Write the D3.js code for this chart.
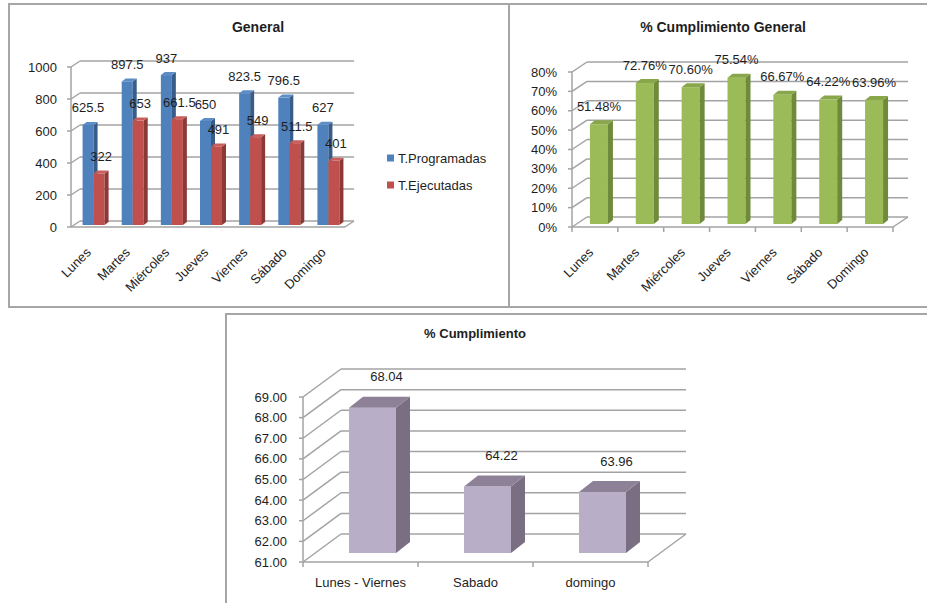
<!DOCTYPE html>
<html>
<head>
<meta charset="utf-8">
<script src="https://cdn.jsdelivr.net/npm/d3@7"></script>
<style>
body { margin: 0; background: #fff; }
svg text { font-family: "Liberation Sans", Arial, sans-serif; fill: #1e1e1e; }
</style>
</head>
<body>
<svg id="chart" width="927" height="603"></svg>
<script>
// datos
var dias = ["Lunes", "Martes", "Miércoles", "Jueves", "Viernes", "Sábado", "Domingo"];
var programadas = [625.5, 897.5, 937, 650, 823.5, 796.5, 627];
var ejecutadas = [322, 653, 661.5, 491, 549, 511.5, 401];
var cumplGeneral = [51.48, 72.76, 70.60, 75.54, 66.67, 64.22, 63.96];
var periodos = ["Lunes - Viernes", "Sabado", "domingo"];
var cumplimiento = [68.04, 64.22, 63.96];
var ticksGeneral = [0, 200, 400, 600, 800, 1000];
var ticksPct = [0, 10, 20, 30, 40, 50, 60, 70, 80];
var ticksCumpl = [61, 62, 63, 64, 65, 66, 67, 68, 69];

var svg = d3.select("#chart");
var grid = "#a3a3a3";
var border = "#a6a6a6";

// marcos de los paneles
svg.append("rect").attr("x", 9).attr("y", 4).attr("width", 500).attr("height", 303)
	.attr("fill", "none").attr("stroke", border).attr("stroke-width", 2);
svg.append("path").attr("d", "M509,4 H930 M509,307 H930")
	.attr("fill", "none").attr("stroke", border).attr("stroke-width", 2);
svg.append("path").attr("d", "M226,610 V314 H930")
	.attr("fill", "none").attr("stroke", border).attr("stroke-width", 2);

function draw3D(c) {
	var g = svg.append("g");
	var x = d3.scaleBand().domain(c.categories).range([c.x0, c.x1]);
	var y = d3.scaleLinear().domain(c.domain).range([c.y0, c.y1]);
	var base = y(c.domain[0]);
	var top = y(c.domain[1]);

	g.append("text")
		.attr("x", c.titleX).attr("y", c.titleY)
		.attr("text-anchor", "middle")
		.style("font-weight", "bold").style("font-size", c.titleSize + "px")
		.text(c.title);

	// pared del fondo y pared lateral
	c.ticks.forEach(function(t) {
		g.append("line")
			.attr("x1", c.x0 + c.dx).attr("y1", y(t) + c.dy)
			.attr("x2", c.x1 + c.dx).attr("y2", y(t) + c.dy)
			.attr("stroke", grid).attr("stroke-width", 1.5);
		g.append("line")
			.attr("x1", c.x0).attr("y1", y(t))
			.attr("x2", c.x0 + c.dx).attr("y2", y(t) + c.dy)
			.attr("stroke", grid).attr("stroke-width", 1.5);
		g.append("line")
			.attr("x1", c.x0 - 4).attr("y1", y(t))
			.attr("x2", c.x0).attr("y2", y(t))
			.attr("stroke", grid).attr("stroke-width", 1.5);
	});
	g.append("line").attr("x1", c.x0).attr("y1", base).attr("x2", c.x1).attr("y2", base)
		.attr("stroke", grid).attr("stroke-width", 1.5);
	g.append("line").attr("x1", c.x1).attr("y1", base).attr("x2", c.x1 + c.dx).attr("y2", base + c.dy)
		.attr("stroke", grid).attr("stroke-width", 1.5);
	g.append("line").attr("x1", c.x0).attr("y1", base).attr("x2", c.x0).attr("y2", top)
		.attr("stroke", grid).attr("stroke-width", 1.5);

	if (c.xTicks) {
		c.categories.concat([null]).forEach(function(d) {
			var xx = d === null ? c.x1 : x(d);
			g.append("line").attr("x1", xx).attr("y1", base).attr("x2", xx).attr("y2", base + 5)
				.attr("stroke", grid).attr("stroke-width", 1.5);
		});
	}

	g.selectAll(".ylab").data(c.ticks).enter().append("text")
		.attr("x", c.x0 - c.yLabelGap)
		.attr("y", function(d) { return y(d); })
		.attr("dy", "0.35em")
		.attr("text-anchor", "end")
		.style("font-size", "13px")
		.text(c.tickFormat);

	var xl = g.selectAll(".xlab").data(c.categories).enter().append("text")
		.style("font-size", "13px")
		.text(function(d) { return d; });
	if (c.rotate) {
		xl.attr("text-anchor", "end").attr("dy", "0.35em")
			.attr("transform", function(d) {
				return "translate(" + (x(d) + x.bandwidth() / 2 + c.xLabelDx) + "," + c.xLabelY + ") rotate(-45)";
			});
	} else {
		xl.attr("text-anchor", "middle")
			.attr("x", function(d) { return x(d) + x.bandwidth() / 2; })
			.attr("y", c.xLabelY);
	}

	var n = c.series.length;
	function barX(i, s) {
		return x(c.categories[i]) + x.bandwidth() / 2 - n * c.barW / 2 + s * c.barW + c.ox;
	}

	c.categories.forEach(function(cat, i) {
		c.series.forEach(function(ser, s) {
			var v = ser.values[i];
			var x0 = barX(i, s), x1 = x0 + c.barW;
			var yt = y(v) + c.oy, yb = base + c.oy;
			g.append("rect").attr("x", x0).attr("y", yt).attr("width", c.barW).attr("height", yb - yt)
				.attr("fill", ser.front);
			g.append("polygon")
				.attr("points", [[x1, yt], [x1 + c.bdx, yt + c.bdy], [x1 + c.bdx, yb + c.bdy], [x1, yb]].join(" "))
				.attr("fill", ser.side);
			g.append("polygon")
				.attr("points", [[x0, yt], [x0 + c.bdx, yt + c.bdy], [x1 + c.bdx, yt + c.bdy], [x1, yt]].join(" "))
				.attr("fill", ser.top);
		});
	});

	// etiquetas de valor
	c.series.forEach(function(ser, s) {
		g.selectAll(".vl" + s).data(ser.values).enter().append("text")
			.attr("x", function(d, i) { return barX(i, s) + c.barW / 2 + ser.labelDx; })
			.attr("y", function(d) { return y(d) + c.oy - c.labelDy; })
			.attr("dy", "0.35em")
			.attr("text-anchor", "middle")
			.style("font-size", "13px")
			.text(c.labelFormat);
	});
	return g;
}

// General
var g1 = draw3D({
	title: "General", titleX: 258, titleY: 32, titleSize: 14,
	categories: dias, domain: [0, 1000], ticks: ticksGeneral,
	x0: 71, x1: 345, y0: 227, y1: 67, dx: 9, dy: -6,
	ox: 3, oy: -2, barW: 11, bdx: 4, bdy: -3,
	yLabelGap: 14, tickFormat: function(d) { return d; },
	labelFormat: function(d) { return d; }, labelDy: 17,
	rotate: true, xLabelDx: -2, xLabelY: 250, xTicks: false,
	series: [
		{ values: programadas, front: "#4f81bd", side: "#385d8a", top: "#5d8dc6", labelDx: 0 },
		{ values: ejecutadas, front: "#c0504d", side: "#8c3836", top: "#c95f5c", labelDx: 2 }
	]
});

var leyenda = [["T.Programadas", "#4f81bd"], ["T.Ejecutadas", "#c0504d"]];
var lg = g1.selectAll(".legend").data(leyenda).enter().append("g")
	.attr("transform", function(d, i) { return "translate(387," + (158 + i * 27) + ")"; });
lg.append("rect").attr("x", 0).attr("y", -3.5).attr("width", 7).attr("height", 7)
	.attr("fill", function(d) { return d[1]; });
lg.append("text").attr("x", 11).attr("y", 0).attr("dy", "0.35em")
	.style("font-size", "13px").text(function(d) { return d[0]; });

// % Cumplimiento General
draw3D({
	title: "% Cumplimiento General", titleX: 723, titleY: 32, titleSize: 14,
	categories: dias, domain: [0, 80], ticks: ticksPct,
	x0: 572, x1: 893, y0: 227, y1: 72, dx: 15, dy: -10,
	ox: 4, oy: -3, barW: 18, bdx: 5, bdy: -4,
	yLabelGap: 15, tickFormat: function(d) { return d + "%"; },
	labelFormat: function(d) { return d.toFixed(2) + "%"; }, labelDy: 18,
	rotate: true, xLabelDx: -4, xLabelY: 250, xTicks: true,
	series: [
		{ values: cumplGeneral, front: "#9bbb59", side: "#6e8a3a", top: "#88a74b", labelDx: 0 }
	]
});

// % Cumplimiento
draw3D({
	title: "% Cumplimiento", titleX: 475, titleY: 338, titleSize: 13,
	categories: periodos, domain: [61, 69], ticks: ticksCumpl,
	x0: 303, x1: 648, y0: 562, y1: 397, dx: 38, dy: -28,
	ox: 12, oy: -9, barW: 47, bdx: 14, bdy: -11,
	yLabelGap: 16, tickFormat: function(d) { return d.toFixed(2); },
	labelFormat: function(d) { return d.toFixed(2); }, labelDy: 31,
	rotate: false, xLabelY: 587, xTicks: true,
	series: [
		{ values: cumplimiento, front: "#b8aec8", side: "#7a6e82", top: "#8d8198", labelDx: 14 }
	]
});
</script>
</body>
</html>
